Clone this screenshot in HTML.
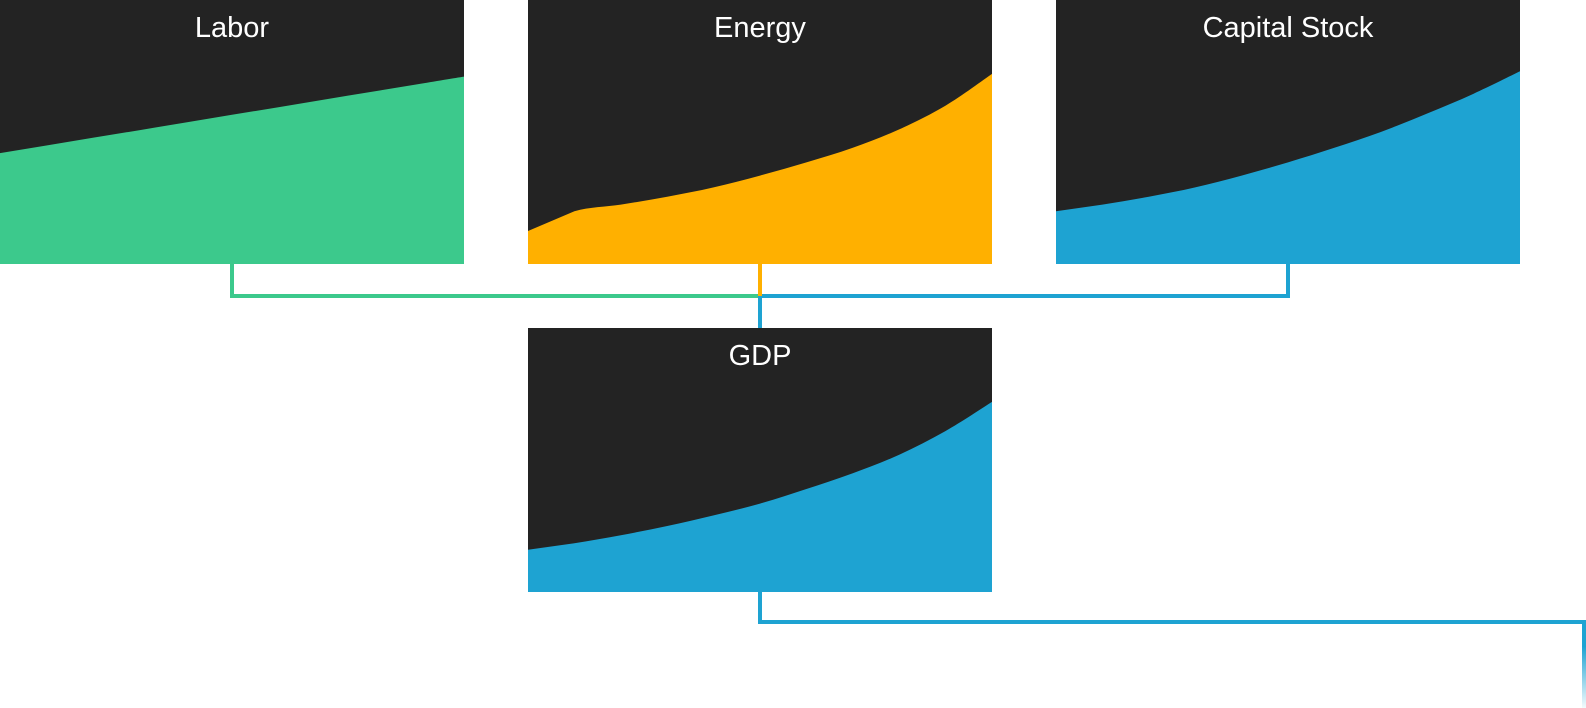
<!DOCTYPE html>
<html><head><meta charset="utf-8"><style>
html,body{margin:0;padding:0;background:#fff;width:1586px;height:708px;overflow:hidden}
svg text{font-family:"Liberation Sans",sans-serif;font-size:29px;fill:#fff}
</style></head><body>
<svg id="chart" width="1586" height="708" xmlns="http://www.w3.org/2000/svg">
<defs><linearGradient id="fade" x1="0" y1="0" x2="0" y2="1"><stop offset="0" stop-color="#1ea3d2"/><stop offset="0.3" stop-color="#1ea3d2"/><stop offset="1" stop-color="#1ea3d2" stop-opacity="0.05"/></linearGradient></defs>
<g id="connectors">
<path d="M232 264 V296 H760" fill="none" stroke="#3cc98c" stroke-width="4"/>
<path d="M1288 264 V296 H760" fill="none" stroke="#1ea3d2" stroke-width="4"/>
<path d="M760 264 V296" fill="none" stroke="#ffb000" stroke-width="4"/>
<path d="M760 296 V328" fill="none" stroke="#1ea3d2" stroke-width="4"/>
<path d="M760 592 V622 H1584" fill="none" stroke="#1ea3d2" stroke-width="4"/>
<rect x="1582" y="620" width="4" height="88" fill="url(#fade)"/>
</g>
</svg>
<script>
const steps = [0,1,2,3,4,5,6,7,8,9,10];
const laborValues = [0.42,0.449,0.478,0.507,0.536,0.565,0.594,0.623,0.652,0.681,0.71];
const energyValues = [0.125,0.20,0.225,0.255,0.29,0.335,0.385,0.44,0.51,0.60,0.72];
const capitalValues = [0.20,0.225,0.255,0.29,0.335,0.385,0.44,0.50,0.57,0.645,0.73];
const gdpValues = [0.16,0.185,0.215,0.25,0.29,0.335,0.39,0.45,0.52,0.61,0.72];
const titles = ["Labor","Energy","Capital Stock","GDP"];

const NS="http://www.w3.org/2000/svg";
const svg=document.getElementById('chart');
const W=464,H=264;
function panel(x0,y0,title,vals,color,name){
  const g=document.createElementNS(NS,'g');
  
  
  const bg=document.createElementNS(NS,'rect');
  bg.setAttribute('x',x0);bg.setAttribute('y',y0);bg.setAttribute('width',W);bg.setAttribute('height',H);bg.setAttribute('fill','#232323');
  
  
  g.appendChild(bg);
  const n=steps.length;
  const pts=vals.map((v,i)=>[x0+W*steps[i]/steps[n-1], y0+H-v*H]);
  let d='M'+x0+' '+(y0+H)+' L'+pts[0][0].toFixed(1)+' '+pts[0][1].toFixed(1);
  d+=' L'+pts[1][0].toFixed(1)+' '+pts[1][1].toFixed(1);
  for(let i=1;i<n-1;i++){
    const p0=pts[i-1],p1=pts[i],p2=pts[i+1],p3=pts[Math.min(i+2,n-1)];
    const c1=[p1[0]+(p2[0]-p0[0])/6,p1[1]+(p2[1]-p0[1])/6];
    const c2=[p2[0]-(p3[0]-p1[0])/6,p2[1]-(p3[1]-p1[1])/6];
    d+=' C'+c1[0].toFixed(1)+' '+c1[1].toFixed(1)+' '+c2[0].toFixed(1)+' '+c2[1].toFixed(1)+' '+p2[0].toFixed(1)+' '+p2[1].toFixed(1);
  }
  d+=' L'+(x0+W)+' '+(y0+H)+' Z';
  const area=document.createElementNS(NS,'path');
  area.setAttribute('d',d);area.setAttribute('fill',color);
  
  
  g.appendChild(area);
  const t=document.createElementNS(NS,'text');
  t.setAttribute('x',x0+W/2);t.setAttribute('y',y0+37);t.setAttribute('text-anchor','middle');
  t.textContent=title;
  
  
  g.appendChild(t);
  svg.insertBefore(g,svg.firstChild.nextSibling);
}
panel(0,0,titles[0],laborValues,'#3cc98c','labor');
panel(528,0,titles[1],energyValues,'#ffb000','energy');
panel(1056,0,titles[2],capitalValues,'#1ea3d2','capital-stock');
panel(528,328,titles[3],gdpValues,'#1ea3d2','gdp');
</script>
</body></html>
